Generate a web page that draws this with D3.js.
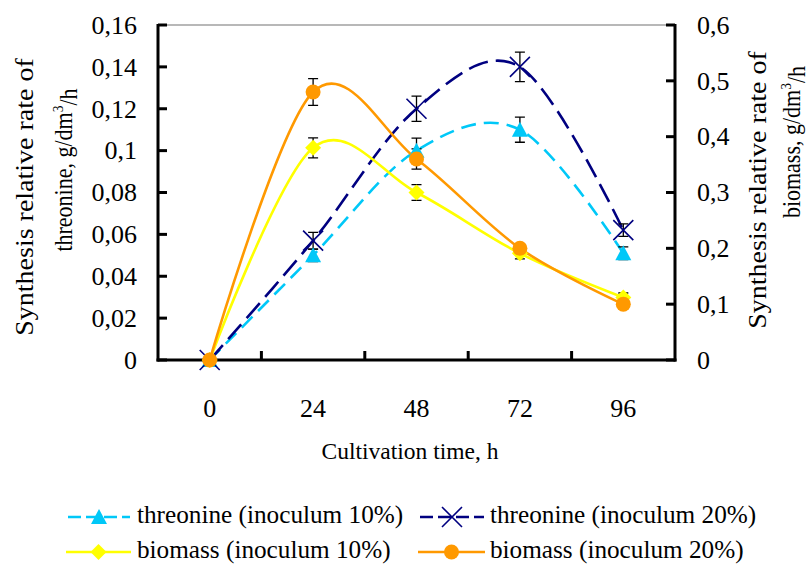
<!DOCTYPE html>
<html><head><meta charset="utf-8">
<script src="https://cdn.jsdelivr.net/npm/d3@7"></script>
<style>body{margin:0;background:#fff}svg{display:block}text{font-family:"Liberation Serif","Times New Roman",serif;fill:#000}</style>
</head><body><svg id="c" width="810" height="565"></svg>
<script>
const hours = ["0","24","48","72","96"];
const thr10 = [0, 0.05, 0.1, 0.11, 0.051];
const thr10Err = [0, 0.003, 0.006, 0.006, 0.003];
const thr20 = [0, 0.057, 0.12, 0.14, 0.062];
const thr20Err = [0, 0.004, 0.006, 0.007, 0.003];
const bio10 = [0, 0.38, 0.3, 0.191, 0.112];
const bio10Err = [0, 0.018, 0.014, 0.01, 0.008];
const bio20 = [0, 0.48, 0.36, 0.2, 0.1];
const bio20Err = [0, 0.024, 0.018, 0.008, 0.008];
const leftTicks = [0,0.02,0.04,0.06,0.08,0.1,0.12,0.14,0.16];
const rightTicks = [0,0.1,0.2,0.3,0.4,0.5,0.6];
const legendLabels = ["threonine (inoculum 10%)","threonine (inoculum 20%)","biomass (inoculum 10%)","biomass (inoculum 20%)"];

const svg = d3.select("#c");
const L=158, R=675, T=25, B=360;
const x = d3.scaleBand().domain(hours).range([L,R]).padding(0);
const cx = d => x(d)+x.bandwidth()/2;
const yL = d3.scaleLinear().domain([0,0.16]).range([B,T]);
const yR = d3.scaleLinear().domain([0,0.6]).range([B,T]);
const fmt = v => String(+v.toFixed(2)).replace(".",",");

function stext(g, px, py, parts, o){
  const gg = g.append("g").attr("transform",`translate(${px},${py})`+(o.rot?` rotate(${o.rot})`:"")+` scale(${o.sx||1},1)`);
  const t = gg.append("text").attr("text-anchor",o.anchor||"middle").attr("dy","0.35em").style("font-size",(o.size||20)+"px");
  if (typeof parts==="string") t.text(parts);
  else parts.forEach(p=>{const s=t.append("tspan").text(p.t); if(p.sup){s.attr("dy","-0.55em").style("font-size","0.62em");} if(p.after){s.attr("dy","0.55em");}});
  return t;
}

svg.append("line").attr("x1",L).attr("x2",R).attr("y1",T).attr("y2",T).attr("stroke","#a0a0a0").attr("stroke-width",1.5);

const ax = svg.append("g").attr("stroke","#000").attr("stroke-width",3).attr("fill","none");
ax.append("line").attr("x1",L).attr("x2",L).attr("y1",T-1).attr("y2",B+1.5);
ax.append("line").attr("x1",R).attr("x2",R).attr("y1",T-1).attr("y2",B+1.5);
ax.append("line").attr("x1",L-1.5).attr("x2",R+1.5).attr("y1",B).attr("y2",B);
leftTicks.forEach(v=>ax.append("line").attr("x1",L).attr("x2",L+9).attr("y1",yL(v)).attr("y2",yL(v)));
rightTicks.forEach(v=>ax.append("line").attr("x1",R).attr("x2",R-9).attr("y1",yR(v)).attr("y2",yR(v)));
hours.slice(1).forEach(h=>ax.append("line").attr("x1",x(h)).attr("x2",x(h)).attr("y1",B).attr("y2",B-9));

leftTicks.forEach(v=>stext(svg,137,yL(v),fmt(v),{anchor:"end",size:25,sx:1.04}));
rightTicks.forEach(v=>stext(svg,697,yR(v),fmt(v),{anchor:"start",size:25,sx:1.04}));
hours.forEach(h=>stext(svg,cx(h),408,h,{size:25,sx:1.04}));

stext(svg,410,451,"Cultivation time, h",{size:23.5,sx:1.0});
stext(svg,24,197,"Synthesis relative rate of",{rot:-90,size:25,sx:1.12});
stext(svg,63,170,[{t:"threonine, g/dm"},{t:"3",sup:true},{t:"/h",after:true}],{rot:-90,size:25,sx:0.88});
stext(svg,757,190,"Synthesis relative rate of",{rot:-90,size:25,sx:1.12});
stext(svg,791,142,[{t:"biomass, g/dm"},{t:"3",sup:true},{t:"/h",after:true}],{rot:-90,size:25,sx:0.88});

const series = [
  {vals:thr10, err:thr10Err, y:yL, color:"#00c8f8", dash:"15,8", marker:"tri"},
  {vals:thr20, err:thr20Err, y:yL, color:"#000080", dash:"20,8", marker:"x"},
  {vals:bio10, err:bio10Err, y:yR, color:"#ffff00", dash:null, marker:"dia"},
  {vals:bio20, err:bio20Err, y:yR, color:"#ff9900", dash:null, marker:"circ"}
];
const line = d3.line().curve(d3.curveCardinal.tension(0));

function marker(g, type, px, py, color){
  if(type==="tri") g.append("path").attr("d",`M${px},${py-8}L${px+8},${py+7}L${px-8},${py+7}Z`).attr("fill",color);
  else if(type==="x") g.append("path").attr("d",`M${px-10},${py-10}L${px+10},${py+10}M${px-10},${py+10}L${px+10},${py-10}`).attr("stroke",color).attr("stroke-width",1.6).attr("fill","none");
  else if(type==="dia") g.append("path").attr("d",`M${px},${py-8}L${px+8},${py}L${px},${py+8}L${px-8},${py}Z`).attr("fill",color);
  else g.append("circle").attr("cx",px).attr("cy",py).attr("r",7.5).attr("fill",color);
}

series.forEach(s=>{
  const pts = hours.map((h,i)=>[cx(h), s.y(s.vals[i])]);
  svg.append("path").attr("d",line(pts)).attr("fill","none").attr("stroke",s.color).attr("stroke-width",2.6).attr("stroke-dasharray",s.dash);
});
series.forEach(s=>{
  const g = svg.append("g");
  hours.forEach((h,i)=>{
    if(s.err[i]>0){
      const px=cx(h), y1=s.y(s.vals[i]+s.err[i]), y2=s.y(s.vals[i]-s.err[i]);
      g.append("path").attr("d",`M${px},${y1}V${y2}M${px-5},${y1}H${px+5}M${px-5},${y2}H${px+5}`).attr("stroke","#000").attr("stroke-width",1.3).attr("fill","none");
    }
  });
});
series.forEach(s=>{
  const g = svg.append("g");
  hours.forEach((h,i)=>marker(g,s.marker,cx(h),s.y(s.vals[i]),s.color));
});

const legPos = [[68,130,137,517],[420,484,490,517],[66,131,137,552],[418,485,490,552]];
series.forEach((s,i)=>{
  const [a,b,tx,ty] = legPos[i];
  const g = svg.append("g");
  g.append("line").attr("x1",a).attr("x2",b).attr("y1",ty).attr("y2",ty).attr("stroke",s.color).attr("stroke-width",2.6).attr("stroke-dasharray",s.dash?"13,5":null);
  marker(g,s.marker,(a+b)/2,ty,s.color);
  stext(svg,tx,ty-2.5,legendLabels[i],{anchor:"start",size:24.5,sx:1.03});
});
</script></body></html>
